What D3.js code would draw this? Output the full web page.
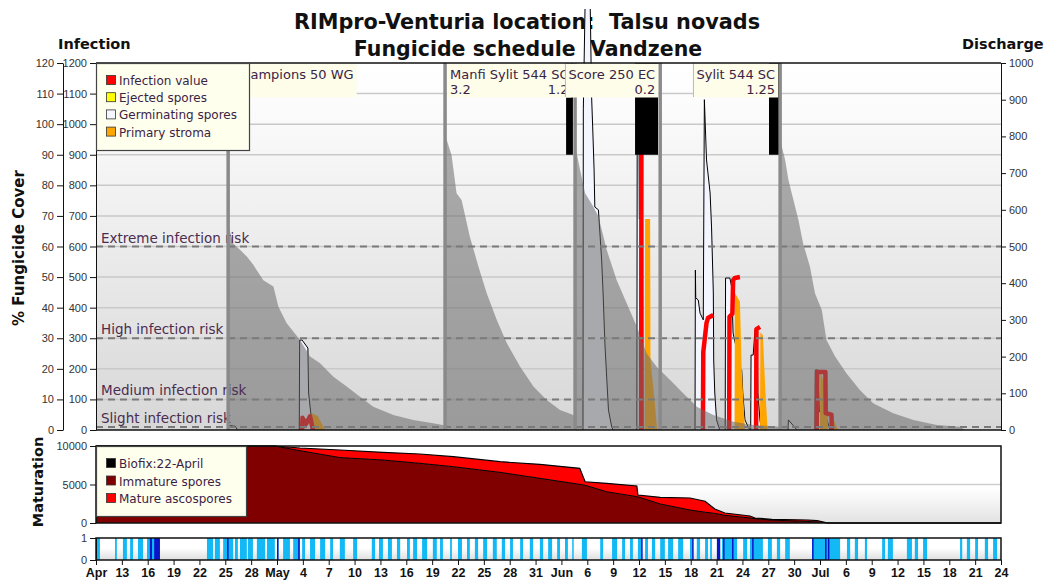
<!DOCTYPE html>
<html><head><meta charset="utf-8">
<script src="https://cdn.jsdelivr.net/npm/d3@7"></script>
<style>
body{margin:0;background:#fff;}
svg{display:block;font-family:"DejaVu Sans",sans-serif;}
</style></head><body>
<svg id="chart" width="1048" height="582"></svg>
<script>
// ---------- season ----------
const seasonStart = "04-10 00";
const seasonEnd = "07-24 00";
const xTickLabels = ["Apr","13","16","19","22","25","28","May","4","7","10","13","16","19","22","25","28","31",
  "Jun","6","9","12","15","18","21","24","27","30","Jul","6","9","12","15","18","21","24"];

// ---------- fungicide schedule ----------
const sprayDates = ["04-25 08","05-20 12","06-04 14","06-14 11","06-28 09"];
const sprayLabels = [
  {at:"04-25 08", side:"after",  names:"Champions 50 WG",   doses:[]},
  {at:"05-20 12", side:"after",  names:"Manfi Sylit 544 SC", doses:["3.2","1.2"]},
  {at:"06-14 11", side:"before", names:"Score 250 EC",       doses:["0.2"]},
  {at:"06-28 09", side:"before", names:"Sylit 544 SC",       doses:["1.25"]}
];
// heavy rain periods washing off the deposit
const washOffPeriods = [["06-03 13","06-04 08"],["06-11 13","06-14 05"],["06-27 02","06-28 06"]];

// % fungicide cover (protective deposit)
const fungicideCover = [
  ["04-25 08",0],["04-25 08",67],["04-25 22",61],["04-26 17",58.9],["04-27 12",56.7],["04-28 06",54],["04-29 10",49],
  ["04-30 14",46.9],["05-01 04",40.3],["05-02 03",34.9],["05-03 16",29.4],["05-04 20",24],["05-06 00",21.8],
  ["05-07 13",17.4],["05-09 02",14.2],["05-10 15",10.9],["05-12 04",7.6],["05-14 12",4.9],["05-16 19",3.3],
  ["05-19 03",2.2],["05-20 12",1.5],
  ["05-20 12",96.5],["05-21 06",89.9],["05-21 20",77.4],["05-22 10",75.2],["05-23 09",63.2],["05-24 09",53.4],
  ["05-25 08",44.7],["05-26 12",36],["05-27 16",28.4],["05-29 05",20.7],["05-30 18",14.2],["06-01 07",9.8],
  ["06-02 20",6.5],["06-04 09",4.9],["06-04 14",4.6],
  ["06-04 14",93],["06-05 04",85],["06-05 18",77.4],["06-06 17",73],["06-07 07",69.8],["06-08 06",58.9],
  ["06-09 10",49],["06-10 14",41.4],["06-11 18",33.8],["06-12 21",25.1],["06-14 01",20.7],["06-15 14",16.4],
  ["06-17 03",12],["06-18 17",7.6],["06-20 15",4.9],["06-22 23",2.7],["06-25 06",1.6],["06-28 09",1.1],
  ["06-28 09",94.8],["06-28 23",88.3],["06-29 08",81.8],["06-29 22",75.2],["06-30 12",68.7],["07-01 01",61],
  ["07-01 20",53.4],["07-02 10",44.7],["07-03 05",39.2],["07-03 18",29.4],["07-04 18",24],["07-06 02",18.5],
  ["07-07 15",13.1],["07-09 05",8.7],["07-11 12",5.5],["07-13 20",3.3],["07-16 13",1.6],["07-19 06",1.1],["07-19 20",0]
];

// ---------- infection model ----------
const germinatingSpores = [
  ["04-25 09",0],["04-25 10",15],["04-26 04",12],["04-26 10",0], null,
  ["05-03 14",0],["05-03 15",294],["05-03 22",294],["05-04 14",268],["05-04 16",121],["05-05 01",23],["05-05 07",0], null,
  ["06-05 12",0],["06-05 13",1050],["06-05 18",1400],["06-06 08",1400],["06-06 12",1090],["06-06 15",991],
  ["06-06 19",850],["06-06 21",729],["06-07 07",720],["06-07 16",556],["06-07 20",448],["06-08 01",284],
  ["06-08 06",173],["06-08 11",65],["06-08 20",10],["06-09 00",0], null,
  ["06-11 18",0],["06-11 19",1000],["06-12 00",1000],["06-12 01",690],["06-12 10",690],["06-12 11",0], null,
  ["06-18 12",0],["06-18 13",523],["06-18 14",432],["06-18 21",425],["06-19 02",382],["06-19 11",360],
  ["06-19 14",1080],["06-19 20",883],["06-20 06",775],["06-20 10",664],["06-20 15",448],["06-20 16",229],
  ["06-20 19",121],["06-21 00",33],["06-21 09",0], null,
  ["06-22 00",0],["06-22 01",497],["06-22 13",497],["06-22 18",468],["06-22 22",317],["06-23 08",262],
  ["06-23 12",206],["06-23 22",196],["06-24 01",121],["06-24 07",33],["06-24 16",10],["06-24 21",0], null,
  ["06-24 23",0],["06-25 00",245],["06-25 06",245],["06-25 11",327],["06-25 17",327],["06-25 19",121],["06-26 01",30],["06-26 06",0], null,
  ["06-29 07",0],["06-29 08",33],["06-30 08",0], null,
  ["07-02 10",0],["07-02 11",196],["07-02 18",196],["07-02 22",60],["07-03 14",55],["07-04 04",0]
];
const primaryStroma = [
  ["05-05 01",0],["05-05 02",55],["05-05 18",45],["05-06 14",0], null,
  ["06-12 16",0],["06-12 17",690],["06-13 07",690],["06-13 08",229],["06-13 21",75],["06-14 02",6],["06-14 03",0], null,
  ["06-23 02",0],["06-23 03",448],["06-23 17",420],["06-23 22",200],["06-24 07",0], null,
  ["06-26 01",0],["06-26 02",320],["06-26 09",310],["06-26 15",150],["06-26 22",0], null,
  ["07-03 00",0],["07-03 01",190],["07-03 21",120],["07-03 22",0], null,
  ["07-04 04",0],["07-04 05",60],["07-05 02",0]
];
// accumulated infection value per wet period
const infectionValue = [
  ["05-03 22",0],["05-03 23",40],["05-04 09",20],["05-04 20",45],["05-05 04",0], null,
  ["06-12 06",0],["06-12 07",1350],["06-13 06",1350], null,
  ["06-19 10",0],["06-19 11",255],["06-19 20",350],["06-20 00",366],["06-20 15",376], null,
  ["06-22 11",0],["06-22 12",370],["06-22 20",380],["06-22 22",490],["06-23 03",497],["06-23 17",500], null,
  ["06-25 14",0],["06-25 15",330],["06-26 01",337], null,
  ["07-02 15",0],["07-02 16",190],["07-03 15",190],["07-03 16",55],["07-04 08",50],["07-04 09",0]
];
const riskLevels = [
  {label:"Extreme infection risk", value:600},
  {label:"High infection risk", value:300},
  {label:"Medium infection risk", value:100},
  {label:"Slight infection risk", value:10}
];

// ---------- ascospore maturation ----------
const maturationDates = ["04-10 00","04-27 10","04-30 18","05-03 16","05-08 07","05-13 07","05-17 14","05-21 11",
  "05-26 21","05-31 12","06-05 03","06-05 18","06-08 06","06-11 18","06-11 21","06-14 11","06-17 22","06-19 16",
  "06-20 19","06-21 23","06-24 21","06-25 11","06-27 10","07-01 14","07-02 16","07-03 22","07-24 00"];
const immatureSpores = [10000,10000,10000,9390,8500,8180,7750,7310,6580,5800,5020,4900,4060,3420,3400,2470,1690,
  1400,1250,1000,650,560,380,200,130,0,0];
const matureAscospores = [0,0,0,350,980,1000,1210,1300,1380,1820,2080,460,1090,1390,240,870,1560,1430,570,300,
  260,90,100,190,170,0,0];

// ---------- leaf wetness / rain ----------
const wetPeriods = [
  ["04-10 00","04-10 11"],["04-12 05","04-12 10"],["04-13 03","04-13 14"],["04-13 23","04-14 07"],["04-14 21","04-15 11"],
  ["04-15 22","04-17 10"],["04-22 21","04-23 14"],["04-23 19","04-24 09"],["04-24 18","04-25 22"],["04-26 03","04-26 11"],
  ["04-26 17","04-27 12"],["04-27 15","04-28 05"],["04-28 16","04-29 15"],["04-29 20","04-30 18"],["05-01 00","05-01 03"],
  ["05-01 17","05-02 12"],["05-02 21","05-03 16"],["05-03 22","05-04 06"],["05-04 20","05-05 10"],["05-06 00","05-06 14"],
  ["05-07 04","05-07 12"],["05-08 07","05-08 21"],["05-09 20","05-10 07"],["05-12 00","05-12 09"],["05-12 20","05-13 07"],
  ["05-13 21","05-14 08"],["05-14 22","05-15 07"],["05-16 02","05-16 10"],["05-16 19","05-17 06"],["05-17 20","05-18 10"],
  ["05-19 02","05-19 13"],["05-19 22","05-20 06"],["05-21 02","05-21 07"],["05-22 00","05-22 11"],["05-23 01","05-23 09"],
  ["05-23 23","05-24 08"],["05-24 22","05-25 09"],["05-26 01","05-26 12"],["05-27 02","05-27 11"],["05-28 01","05-28 09"],
  ["05-29 05","05-29 13"],["05-30 08","05-30 17"],["05-31 12","05-31 21"],["06-01 11","06-01 22"],["06-02 12","06-02 20"],
  ["06-03 10","06-03 18"],["06-04 06","06-04 08"],["06-05 09","06-05 23"],["06-07 12","06-07 20"],["06-08 21","06-09 11"],
  ["06-10 01","06-10 09"],["06-10 23","06-11 07"],["06-11 21","06-12 08"],["06-12 17","06-13 01"],["06-13 12","06-13 21"],
  ["06-14 11","06-15 00"],["06-15 09","06-15 23"],["06-16 13","06-17 03"],["06-17 22","06-18 06"],["06-18 17","06-19 02"],
  ["06-19 16","06-20 00"],["06-20 06","06-20 11"],["06-21 01","06-21 10"],["06-21 15","06-23 09"],["06-24 02","06-24 13"],
  ["06-24 21","06-26 09"],["06-26 23","06-27 10"],["06-28 00","06-28 09"],["06-28 23","06-29 12"],["07-02 02","07-05 08"],
  ["07-06 03","07-06 12"],["07-07 01","07-07 10"],["07-08 05","07-08 11"],["07-10 05","07-10 13"],["07-10 21","07-11 11"],
  ["07-13 02","07-13 16"],["07-14 00","07-14 09"],["07-14 23","07-15 10"],["07-19 06","07-19 12"],["07-20 01","07-20 10"],
  ["07-21 00","07-21 08"],["07-22 03","07-22 12"],["07-23 02","07-23 13"]
];
const rainPeriods = [
  ["04-16 06","04-16 12"],["04-16 18","04-17 10"],["04-25 05","04-25 07"],["05-01 00","05-01 03"],["05-03 11","05-03 12"],
  ["06-12 06","06-12 08"],["06-18 04","06-18 06"],["06-21 01","06-21 10"],["06-21 18","06-21 19"],["06-22 19","06-22 20"],
  ["06-25 03","06-25 06"],["07-02 02","07-02 05"],["07-03 14","07-03 15"],["07-03 22","07-03 23"]
];

// ---------- drawing ----------
const parse = d3.timeParse("%Y-%m-%d %H");
const P = s => parse("2019-" + s);
const pts = arr => arr.map(d => d ? {t: P(d[0]), v: d[1]} : null);
const intFmt = d3.format("d");

const svg = d3.select("#chart");
const L = 96, R = 1001, T = 63, B = 430;
const MT = 446, MB = 523, ST = 538, SB = 560;
const textCol = "#3b2345";

const x = d3.scaleTime().domain([P(seasonStart), P(seasonEnd)]).range([L, R]);
const yInf = d3.scaleLinear().domain([0, 1200]).range([B, T]);
const yCover = d3.scaleLinear().domain([0, 120]).range([B, T]);
const yDis = d3.scaleLinear().domain([0, 1000]).range([B, T]);
const yMat = d3.scaleLinear().domain([0, 10000]).range([MB, MT]);
const yWet = d3.scaleLinear().domain([0, 1]).range([SB, ST]);

const defs = svg.append("defs");
function vGrad(id, stops) {
  const g = defs.append("linearGradient").attr("id", id).attr("x1", 0).attr("y1", 0).attr("x2", 0).attr("y2", 1);
  stops.forEach(s => g.append("stop").attr("offset", s[0]).attr("stop-color", s[1]));
}
vGrad("bgMain", [[0, "#ffffff"], [0.08, "#fdfdfd"], [1, "#d7d7d7"]]);
vGrad("bgMat", [[0, "#ffffff"], [0.55, "#ffffff"], [1, "#e2e2e2"]]);
vGrad("bgWet", [[0, "#ffffff"], [0.45, "#ffffff"], [1, "#dedede"]]);
defs.append("clipPath").attr("id", "clipMain").append("rect").attr("x", L).attr("y", T).attr("width", R - L).attr("height", B - T);
defs.append("clipPath").attr("id", "clipTall").append("rect").attr("x", L).attr("y", 9).attr("width", R - L).attr("height", B - 9);

// titles
svg.append("text").attr("x", 527).attr("y", 29).attr("text-anchor", "middle")
  .style("font-weight", "bold").style("font-size", "20.8px").attr("fill", "#111")
  .attr("xml:space", "preserve").text("RIMpro-Venturia location:  Talsu novads");
svg.append("text").attr("x", 528).attr("y", 56).attr("text-anchor", "middle")
  .style("font-weight", "bold").style("font-size", "20.5px").attr("fill", "#111")
  .attr("xml:space", "preserve").text("Fungicide schedule  Vandzene");
svg.append("text").attr("x", 58).attr("y", 49).style("font-weight", "bold").style("font-size", "14.5px").attr("fill", "#111").text("Infection");
svg.append("text").attr("x", 962).attr("y", 49).style("font-weight", "bold").style("font-size", "14.5px").attr("fill", "#111").text("Discharge");
svg.append("text").attr("transform", "rotate(-90)").attr("x", -248).attr("y", 24).attr("text-anchor", "middle")
  .style("font-weight", "bold").style("font-size", "15px").attr("fill", "#111").text("% Fungicide Cover");
svg.append("text").attr("transform", "rotate(-90)").attr("x", -482).attr("y", 43).attr("text-anchor", "middle")
  .style("font-weight", "bold").style("font-size", "14.5px").attr("fill", "#111").text("Maturation");

// ---- main panel ----
svg.append("rect").attr("x", L).attr("y", T).attr("width", R - L).attr("height", B - T).attr("fill", "url(#bgMain)");
svg.append("g").attr("clip-path", "url(#clipMain)")
  .selectAll("line").data(d3.range(100, 1200, 100)).join("line")
  .attr("x1", L).attr("x2", R).attr("y1", d => yInf(d)).attr("y2", d => yInf(d))
  .attr("stroke", "#c9c9c9").attr("stroke-width", 1.5);

// germinating spores (may rise above the frame)
const tall = svg.append("g").attr("clip-path", "url(#clipTall)");
const germ = pts(germinatingSpores);
tall.append("path").datum(germ)
  .attr("d", d3.area().defined(d => d).x(d => x(d.t)).y0(B).y1(d => yInf(d.v)))
  .attr("fill", "#f3f5ff");
tall.append("path").datum(germ)
  .attr("d", d3.line().defined(d => d).x(d => x(d.t)).y(d => yInf(d.v)))
  .attr("fill", "none").attr("stroke", "#000").attr("stroke-width", 1);

const main = svg.append("g").attr("clip-path", "url(#clipMain)");
// primary stroma
main.append("path").datum(pts(primaryStroma))
  .attr("d", d3.area().defined(d => d).x(d => x(d.t)).y0(B).y1(d => yInf(d.v)))
  .attr("fill", "#ffa500");
// infection value
main.append("path").datum(pts(infectionValue))
  .attr("d", d3.line().defined(d => d).x(d => x(d.t)).y(d => yInf(d.v)))
  .attr("fill", "none").attr("stroke", "#ff0000").attr("stroke-width", 4.5).attr("stroke-linejoin", "round");
// wash-off periods
main.selectAll("rect.wash").data(washOffPeriods).join("rect")
  .attr("x", d => x(P(d[0]))).attr("width", d => x(P(d[1])) - x(P(d[0])))
  .attr("y", yInf(1200)).attr("height", yInf(900) - yInf(1200)).attr("fill", "#000");
// fungicide cover, translucent over the infection series
main.append("path").datum(pts(fungicideCover))
  .attr("d", d3.area().x(d => x(d.t)).y0(B).y1(d => yCover(d.v)))
  .attr("fill", "#6a6a6a").attr("fill-opacity", 0.55);

// risk thresholds
riskLevels.forEach(r => {
  main.append("line").attr("x1", L).attr("x2", R).attr("y1", yInf(r.value)).attr("y2", yInf(r.value))
    .attr("stroke", "#7a7a7a").attr("stroke-width", 2).attr("stroke-dasharray", "7,5");
  main.append("text").attr("x", L + 5).attr("y", yInf(r.value) - 4)
    .style("font-size", "13.5px").attr("fill", "#4b2d50").text(r.label);
});

// spray application lines
main.selectAll("line.spray").data(sprayDates).join("line")
  .attr("x1", d => x(P(d))).attr("x2", d => x(P(d))).attr("y1", T).attr("y2", B)
  .attr("stroke", "#8a8a8a").attr("stroke-width", 3.5);

// spray labels
sprayLabels.forEach(s => {
  const g = main.append("g");
  const t1 = g.append("text").style("font-size", "13px").attr("fill", textCol).text(s.names);
  const w = t1.node().getComputedTextLength() + 6;
  const xa = x(P(s.at));
  const x0 = s.side === "after" ? xa + 2 : xa - 2 - w;
  g.insert("rect", "text").attr("x", x0).attr("y", T + 0.5).attr("width", w).attr("height", 34)
    .attr("fill", "#fdfde9");
  if (s.side === "before") g.append("line").attr("x1", x0).attr("x2", x0).attr("y1", T).attr("y2", T + 34)
    .attr("stroke", "#b8b8b8").attr("stroke-width", 1);
  t1.attr("x", x0 + 3).attr("y", T + 16);
  s.doses.forEach((d, i) => {
    const first = i === 0 && s.doses.length > 1;
    g.append("text").style("font-size", "13px").attr("fill", textCol)
      .attr("x", first ? x0 + 3 : x0 + w - 3).attr("text-anchor", first ? "start" : "end")
      .attr("y", T + 31).text(d);
  });
});

// frame and axes
function styleAxis(g) {
  g.selectAll("text").style("font-size", "11px").attr("fill", "#333");
  g.selectAll("line").attr("stroke", "#111");
  g.select(".domain").attr("stroke", "#111");
}
svg.append("line").attr("x1", L).attr("x2", R).attr("y1", T).attr("y2", T).attr("stroke", "#111").attr("stroke-width", 1.5);
svg.append("line").attr("x1", L).attr("x2", R).attr("y1", B).attr("y2", B).attr("stroke", "#111").attr("stroke-width", 1.5);
svg.append("g").attr("transform", `translate(63,0)`)
  .call(d3.axisLeft(yCover).tickValues(d3.range(0, 121, 10)).tickSize(6).tickSizeOuter(0).tickFormat(intFmt)).call(styleAxis);
svg.append("g").attr("transform", `translate(${L},0)`)
  .call(d3.axisLeft(yInf).tickValues(d3.range(0, 1201, 100)).tickSize(6).tickSizeOuter(0).tickFormat(intFmt)).call(styleAxis);
svg.append("g").attr("transform", `translate(${R},0)`)
  .call(d3.axisRight(yDis).tickValues(d3.range(0, 1001, 100)).tickSize(5).tickSizeOuter(0).tickFormat(intFmt)).call(styleAxis);

// legend
function legend(x0, y0, w, h, items, step) {
  const g = svg.append("g");
  g.append("rect").attr("x", x0 + 0.5).attr("y", y0 + 0.5).attr("width", w).attr("height", h)
    .attr("fill", "#ffffee").attr("stroke", "#444").attr("stroke-width", 1.2);
  items.forEach((it, i) => {
    const yb = y0 + 22 + i * step;
    g.append("rect").attr("x", x0 + 10.5).attr("y", yb - 9.5).attr("width", 9).attr("height", 9)
      .attr("fill", it[1]).attr("stroke", "#333").attr("stroke-width", 0.8);
    g.append("text").attr("x", x0 + 23).attr("y", yb).style("font-size", "12px").attr("fill", textCol).text(it[0]);
  });
}
legend(L, T, 153, 87, [["Infection value", "#ff0000"], ["Ejected spores", "#ffff00"],
  ["Germinating spores", "#f4f6ff"], ["Primary stroma", "#ffa500"]], 17.2);

// ---- maturation panel ----
svg.append("rect").attr("x", L).attr("y", MT).attr("width", R - L).attr("height", MB - MT).attr("fill", "url(#bgMat)");
svg.append("line").attr("x1", L).attr("x2", R).attr("y1", yMat(5000)).attr("y2", yMat(5000)).attr("stroke", "#cfcfcf").attr("stroke-width", 1.5);
const mat = maturationDates.map((d, i) => ({t: P(d), imm: immatureSpores[i], tot: immatureSpores[i] + matureAscospores[i]}));
svg.append("path").datum(mat).attr("d", d3.area().x(d => x(d.t)).y0(d => yMat(d.imm)).y1(d => yMat(d.tot))).attr("fill", "#ff0000");
svg.append("path").datum(mat).attr("d", d3.area().x(d => x(d.t)).y0(MB).y1(d => yMat(d.imm))).attr("fill", "#800000");
svg.append("path").datum(mat).attr("d", d3.line().x(d => x(d.t)).y(d => yMat(d.imm))).attr("fill", "none").attr("stroke", "#000").attr("stroke-width", 1);
svg.append("path").datum(mat).attr("d", d3.line().x(d => x(d.t)).y(d => yMat(d.tot))).attr("fill", "none").attr("stroke", "#000").attr("stroke-width", 1.2);
svg.append("rect").attr("x", L).attr("y", MT).attr("width", R - L).attr("height", MB - MT).attr("fill", "none").attr("stroke", "#111").attr("stroke-width", 1.5);
svg.append("g").attr("transform", `translate(${L},0)`)
  .call(d3.axisLeft(yMat).tickValues([0, 5000, 10000]).tickSize(6).tickSizeOuter(0).tickFormat(intFmt)).call(styleAxis);
legend(L, MT, 150, 70, [["Biofix:22-April", "#000"], ["Immature spores", "#800000"], ["Mature ascospores", "#ff0000"]], 17.5);

// ---- wetness strip ----
svg.append("rect").attr("x", L).attr("y", ST).attr("width", R - L).attr("height", SB - ST).attr("fill", "url(#bgWet)");
svg.selectAll("rect.wet").data(wetPeriods).join("rect")
  .attr("x", d => x(P(d[0]))).attr("width", d => Math.max(1.5, x(P(d[1])) - x(P(d[0]))))
  .attr("y", yWet(1)).attr("height", yWet(0) - yWet(1)).attr("fill", "#12b9f5");
svg.selectAll("rect.rain").data(rainPeriods).join("rect")
  .attr("x", d => x(P(d[0]))).attr("width", d => Math.max(1.5, x(P(d[1])) - x(P(d[0]))))
  .attr("y", yWet(1)).attr("height", yWet(0) - yWet(1)).attr("fill", "#0a14c8");
svg.append("rect").attr("x", L).attr("y", ST).attr("width", R - L).attr("height", SB - ST).attr("fill", "none").attr("stroke", "#111").attr("stroke-width", 1.5);
svg.append("g").attr("transform", `translate(${L},0)`)
  .call(d3.axisLeft(yWet).tickValues([0, 1]).tickSize(6).tickSizeOuter(0).tickFormat(intFmt)).call(styleAxis);

// date axis
const tickDates = xTickLabels.map((_, i) => d3.timeDay.offset(P(seasonStart), 3 * i));
const xAxis = svg.append("g").attr("transform", `translate(0,${SB})`)
  .call(d3.axisBottom(x).tickValues(tickDates).tickSize(5).tickSizeOuter(0).tickFormat((d, i) => xTickLabels[i]));
xAxis.select(".domain").remove();
xAxis.selectAll("text").style("font-size", "12.5px").style("font-weight", "bold").attr("fill", "#111");
xAxis.selectAll("line").attr("stroke", "#111");
</script>
</body></html>
